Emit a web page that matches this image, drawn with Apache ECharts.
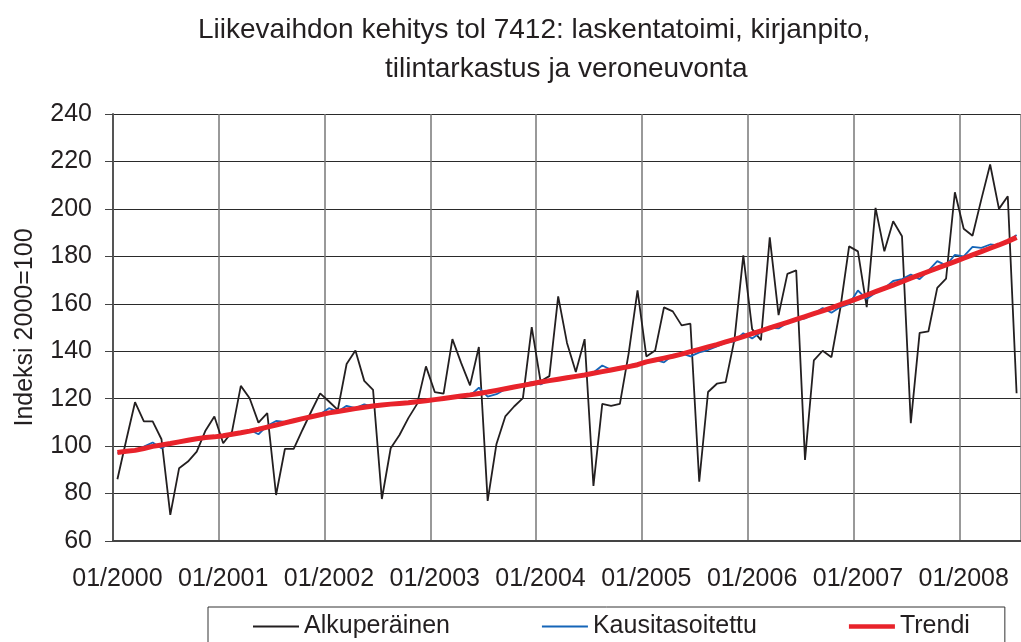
<!DOCTYPE html>
<html lang="fi">

<head>
    <meta charset="UTF-8">
    <title>Liikevaihdon kehitys tol 7412</title>
    <script src="https://cdn.jsdelivr.net/npm/echarts@6/dist/echarts.min.js"></script>
    <style>
        * {
            padding: 0;
            margin: 0;
        }

        html,
        body {
            width: 100%;
            height: 100%;
            background: #fff;
        }

        #chart {
            width: 1021px;
            height: 642px;
        }
    </style>
</head>

<body>
    <div id="chart"></div>
</body>

</html>
<script>
    // kuukaudet 01/2000 - 07/2008
    let months = [];
    for (let y = 2000; y <= 2008; y++) {
        for (let m = 1; m <= 12; m++) {
            months.push((m < 10 ? '0' + m : '' + m) + '/' + y);
        }
    }
    months = months.slice(0, 103);

    // Alkuperäinen sarja
    let original = [
        86.0, 102.5, 118.5, 110.4, 110.4, 102.9, 71.0, 90.7, 93.5, 97.7, 106.6, 112.5,
        101.2, 106.1, 125.4, 120.2, 109.9, 113.9, 79.4, 98.8, 98.8, 106.9, 114.7, 122.2,
        118.8, 115.3, 134.6, 140.3, 127.5, 123.7, 77.7, 99.1, 104.7, 111.8, 117.8, 133.6,
        122.8, 122.1, 145.1, 135.0, 125.6, 141.8, 76.9, 100.9, 112.5, 116.7, 120.2, 150.2,
        127.3, 129.5, 163.1, 143.5, 131.2, 145.1, 83.2, 117.8, 117.0, 117.8, 139.2, 165.7,
        137.8, 140.3, 158.5, 156.8, 150.9, 151.6, 85.0, 122.8, 126.3, 127.0, 145.0, 180.4,
        149.3, 144.7, 188.0, 155.2, 172.6, 174.1, 94.2, 136.1, 140.2, 137.5, 158.0, 184.2,
        182.1, 158.6, 200.4, 182.1, 194.8, 188.5, 109.7, 147.7, 148.4, 166.7, 170.6, 207.0,
        191.6, 188.7, 204.0, 218.7, 200.0, 205.3, 122.3
    ];

    // Kausitasoitettu sarja
    let adjusted = [
        97.0, 97.7, 98.4, 99.8, 101.5, 99.1, 101.2, 101.9, 102.4, 103.0, 103.6, 104.0,
        104.6, 105.0, 105.3, 106.9, 105.0, 108.6, 110.6, 110.2, 111.2, 111.6, 112.0, 113.4,
        116.0, 114.6, 117.0, 116.0, 117.6, 116.6, 117.4, 117.8, 117.9, 118.4, 118.6, 119.3,
        119.8, 120.0, 120.6, 121.0, 121.3, 124.6, 120.9, 121.9, 124.0, 125.1, 125.9, 127.0,
        126.0, 127.8, 128.3, 129.0, 129.3, 130.0, 131.0, 134.0, 132.2, 133.3, 134.0, 134.8,
        135.4, 136.3, 135.3, 138.3, 139.1, 137.8, 139.5, 140.5, 142.0, 143.6, 144.2, 147.6,
        145.4, 148.0, 149.8, 149.6, 152.0, 153.0, 153.8, 155.8, 158.2, 156.2, 158.6, 159.8,
        165.6, 162.0, 164.6, 166.6, 169.6, 170.4, 172.3, 170.4, 174.0, 178.0, 176.2, 180.6,
        180.0, 184.0, 183.6, 185.0, 184.6, 186.4, 189.0
    ];

    // Trendi
    let trend = [
        97.3, 97.8, 98.2, 99.0, 99.9, 100.5, 101.1, 101.8, 102.5, 103.1, 103.6, 103.9,
        104.4, 105.0, 105.6, 106.3, 107.1, 108.0, 108.9, 109.8, 110.7, 111.6, 112.4, 113.2,
        114.0, 114.6, 115.2, 115.8, 116.4, 116.9, 117.3, 117.7, 118.0, 118.3, 118.7, 119.1,
        119.6, 120.1, 120.6, 121.1, 121.6, 122.2, 122.8, 123.5, 124.2, 124.9, 125.6, 126.3,
        127.0, 127.6, 128.2, 128.8, 129.4, 130.0, 130.7, 131.4, 132.1, 132.8, 133.5, 134.3,
        135.5, 136.3, 137.1, 137.9, 138.8, 139.8, 140.8, 141.8, 142.8, 143.9, 145.0, 146.2,
        147.4, 148.6, 149.8, 151.0, 152.2, 153.4, 154.6, 155.8, 157.0, 158.3, 159.6, 160.9,
        162.3, 163.7, 165.1, 166.5, 167.9, 169.3, 170.8, 172.2, 173.6, 175.0, 176.4, 177.8,
        179.2, 180.6, 182.0, 183.4, 184.8, 186.3, 188.0
    ];

    let yTicks = [60, 80, 100, 120, 140, 160, 180, 200, 220, 240];

    const font = "'Liberation Sans', Arial, sans-serif";
    const ink = '#231f20';
    const blue = '#1565b8';
    const red = '#e8232b';

    var myChart = echarts.init(document.getElementById('chart'));
    option = {
        animation: false,
        backgroundColor: '#fff',
        textStyle: { fontFamily: font, color: ink },
        title: [
            {
                text: 'Liikevaihdon kehitys tol 7412: laskentatoimi, kirjanpito,',
                left: 193,
                top: 11,
                textStyle: { fontFamily: font, fontSize: 28, fontWeight: 'normal', color: ink }
            },
            {
                text: 'tilintarkastus ja veroneuvonta',
                left: 380,
                top: 50,
                textStyle: { fontFamily: font, fontSize: 28, fontWeight: 'normal', color: ink }
            }
        ],
        legend: {
            left: 208,
            top: 607,
            padding: [7, 35, 20, 45],
            itemGap: 92,
            itemWidth: 46,
            itemHeight: 14,
            borderColor: '#333',
            borderWidth: 1,
            borderRadius: 0,
            textStyle: { fontFamily: font, fontSize: 25, color: ink },
            data: [
                { name: 'Alkuperäinen', icon: 'path://M0,0H46V2H0Z', itemStyle: { color: ink } },
                { name: 'Kausitasoitettu', icon: 'path://M0,0H46V2H0Z', itemStyle: { color: blue } },
                { name: 'Trendi', icon: 'path://M0,0H46V4.5H0Z', itemStyle: { color: red } }
            ]
        },
        grid: {
            left: 113,
            right: 0,
            top: 114,
            bottom: 101,
            containLabel: false
        },
        xAxis: {
            type: 'category',
            data: months,
            boundaryGap: true,
            axisLine: { lineStyle: { color: '#444', width: 2 } },
            axisTick: { interval: 11, length: 7, lineStyle: { color: '#444', width: 1 } },
            axisLabel: {
                interval: 11,
                margin: 26,
                fontSize: 25,
                color: ink,
                fontFamily: font
            },
            splitLine: { show: true, interval: 11, lineStyle: { color: '#777', width: 1.5 } }
        },
        yAxis: {
            type: 'value',
            min: yTicks[0],
            max: yTicks[yTicks.length - 1],
            interval: 20,
            name: 'Indeksi 2000=100',
            nameLocation: 'middle',
            nameRotate: 90,
            nameGap: 75,
            nameTextStyle: { fontSize: 25, color: ink, fontFamily: font },
            axisLine: { show: true, lineStyle: { color: '#555', width: 2 } },
            axisTick: { show: true, length: 8, lineStyle: { color: '#444', width: 1 } },
            axisLabel: { margin: 21, fontSize: 25, color: ink, fontFamily: font },
            splitLine: { show: true, lineStyle: { color: '#2a2a2a', width: 1 } }
        },
        series: [
            {
                name: 'Alkuperäinen',
                type: 'line',
                data: original,
                symbol: 'none',
                showSymbol: false,
                itemStyle: { color: ink },
                lineStyle: { color: ink, width: 1.8 },
                z: 2
            },
            {
                name: 'Kausitasoitettu',
                type: 'line',
                data: adjusted,
                symbol: 'none',
                showSymbol: false,
                itemStyle: { color: blue },
                lineStyle: { color: blue, width: 1.8 },
                z: 3
            },
            {
                name: 'Trendi',
                type: 'line',
                data: trend,
                symbol: 'none',
                showSymbol: false,
                itemStyle: { color: red },
                lineStyle: { color: red, width: 5 },
                z: 4
            }
        ]
    };
    myChart.setOption(option);
</script>
